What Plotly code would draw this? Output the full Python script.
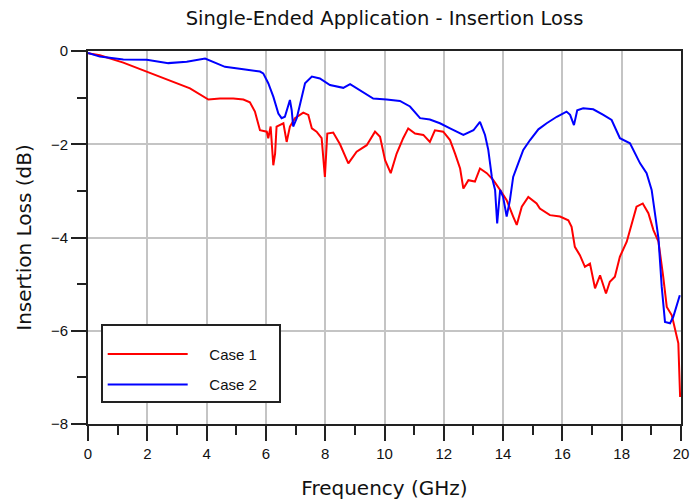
import plotly.graph_objects as go

# ---- data ----
freq_case1 = [0, 0.4, 1.19, 1.98, 2.65, 3.44, 4.06, 4.45, 4.9, 5.24,
              5.46, 5.63, 5.8, 6.03, 6.08, 6.16, 6.25, 6.31, 6.36, 6.48,
              6.59, 6.7, 6.81, 6.98, 7.26, 7.43, 7.55, 7.71, 7.88, 7.99,
              8.07, 8.27, 8.5, 8.78, 9.06, 9.4, 9.68, 9.85, 10.02, 10.21,
              10.41, 10.63, 10.8, 11.03, 11.31, 11.53, 11.7, 11.98, 12.21, 12.38,
              12.55, 12.66, 12.83, 13.05, 13.22, 13.45, 13.67, 13.9, 14.12, 14.34,
              14.46, 14.63, 14.85, 15.13, 15.24, 15.58, 15.92, 16.2, 16.31, 16.42,
              16.59, 16.76, 16.93, 17.1, 17.27, 17.47, 17.6, 17.77, 17.94, 18.17,
              18.34, 18.5, 18.71, 18.9, 19.07, 19.24, 19.4, 19.52, 19.69, 19.8,
              19.91, 19.97]
loss_case1 = [-0.05, -0.09, -0.25, -0.44, -0.61, -0.80, -1.04, -1.02, -1.02, -1.04,
              -1.10, -1.30, -1.70, -1.73, -1.87, -1.62, -2.45, -2.20, -1.62, -1.59,
              -1.55, -1.95, -1.62, -1.44, -1.32, -1.37, -1.66, -1.73, -1.87, -2.70,
              -1.77, -1.75, -2.00, -2.41, -2.16, -2.02, -1.73, -1.84, -2.34, -2.62,
              -2.20, -1.87, -1.66, -1.77, -1.80, -1.95, -1.70, -1.73, -1.91, -2.20,
              -2.52, -2.95, -2.77, -2.80, -2.52, -2.62, -2.77, -2.98, -3.20, -3.55,
              -3.73, -3.34, -3.13, -3.27, -3.38, -3.52, -3.55, -3.63, -3.77, -4.20,
              -4.38, -4.63, -4.56, -5.09, -4.81, -5.20, -4.95, -4.84, -4.41, -4.09,
              -3.70, -3.34, -3.27, -3.48, -3.84, -4.09, -4.84, -5.49, -5.67, -5.99,
              -6.27, -7.42]

freq_case2 = [0, 0.4, 1.19, 1.98, 2.71, 3.33, 3.95, 4.23, 4.62, 5.24,
              5.8, 5.91, 6.08, 6.25, 6.42, 6.53, 6.64, 6.76, 6.81, 6.87,
              6.92, 7.04, 7.15, 7.32, 7.55, 7.82, 8.16, 8.44, 8.61, 8.84,
              9.17, 9.62, 10.07, 10.52, 10.86, 11.2, 11.53, 11.87, 12.21, 12.66,
              13.0, 13.22, 13.39, 13.5, 13.62, 13.73, 13.8, 13.9, 14.0, 14.12,
              14.23, 14.34, 14.51, 14.68, 14.91, 15.19, 15.47, 15.81, 16.14, 16.26,
              16.39, 16.5, 16.7, 17.04, 17.38, 17.66, 17.94, 18.28, 18.62, 18.84,
              19.01, 19.18, 19.24, 19.35, 19.46, 19.63, 19.74, 19.96]
loss_case2 = [-0.04, -0.12, -0.18, -0.19, -0.26, -0.23, -0.16, -0.23, -0.34, -0.39,
              -0.44, -0.48, -0.69, -0.98, -1.34, -1.44, -1.41, -1.16, -1.05, -1.27,
              -1.62, -1.44, -1.12, -0.69, -0.55, -0.59, -0.73, -0.77, -0.79, -0.71,
              -0.84, -1.02, -1.04, -1.07, -1.19, -1.44, -1.47, -1.55, -1.66, -1.80,
              -1.70, -1.52, -1.80, -2.12, -2.70, -2.98, -3.70, -2.98, -3.13, -3.55,
              -3.20, -2.70, -2.41, -2.12, -1.91, -1.68, -1.55, -1.41, -1.30, -1.37,
              -1.59, -1.27, -1.23, -1.25, -1.37, -1.48, -1.87, -1.98, -2.41, -2.62,
              -2.98, -3.77, -4.02, -5.06, -5.81, -5.84, -5.70, -5.24]

series_names = ["Case 1", "Case 2"]
x_tickvals = [0, 2, 4, 6, 8, 10, 12, 14, 16, 18, 20]
y_tickvals = [0, -2, -4, -6, -8]

FONT = "Liberation Sans, Arial, sans-serif"
WIDE = "DejaVu Sans, Liberation Sans, sans-serif"
NB = "\u00a0"

fig = go.Figure()
fig.add_trace(go.Scatter(x=freq_case1, y=loss_case1, mode="lines",
                         name=NB * 4 + series_names[0] + NB * 4,
                         legendgroup="g1",
                         line=dict(color="#ff0000", width=2)))
fig.add_trace(go.Scatter(x=freq_case2, y=loss_case2, mode="lines",
                         name=NB * 4 + series_names[1] + NB * 4,
                         legendgroup="g2",
                         line=dict(color="#0000ff", width=2)))

axis_common = dict(
    showgrid=True, gridcolor="#c4c4c4", gridwidth=2,
    showline=True, linecolor="#222222", linewidth=2, mirror=True,
    ticks="outside", ticklen=15, tickwidth=2, tickcolor="#222222",
    tickfont=dict(family=FONT, size=15, color="#111111"),
    zeroline=False, automargin=False,
    minor=dict(dtick=1, ticks="outside", ticklen=9, tickwidth=2,
               tickcolor="#222222", showgrid=False),
)

fig.update_layout(
    width=691, height=503,
    paper_bgcolor="white", plot_bgcolor="white",
    margin=dict(l=88, r=10, t=51, b=79),
    title=dict(text="Single-Ended Application - Insertion Loss",
               x=0.5, xref="paper", xanchor="center",
               y=1 - 18 / 503, yref="container", yanchor="middle",
               font=dict(family=WIDE, size=19.5, color="#111111")),
    xaxis=dict(range=[0, 20], tickvals=x_tickvals,
               title=dict(text="Frequency (GHz)", standoff=20,
                          font=dict(family=WIDE, size=20, color="#111111")),
               **axis_common),
    yaxis=dict(range=[-8, 0], tickvals=y_tickvals,
               title=dict(text="Insertion Loss (dB)", standoff=14,
                          font=dict(family=WIDE, size=20, color="#111111")),
               **axis_common),
    legend=dict(x=0.0214, y=0.268, xanchor="left", yanchor="top",
                bgcolor="white", bordercolor="#222222", borderwidth=2,
                font=dict(family=FONT, size=15, color="#111111"),
                title=dict(text=NB, font=dict(size=9)),
                itemwidth=80, traceorder="grouped", tracegroupgap=8),
    showlegend=True,
)

fig.write_html("out.html", config={"displayModeBar": False},
               post_script="document.body.style.margin='0px';")
